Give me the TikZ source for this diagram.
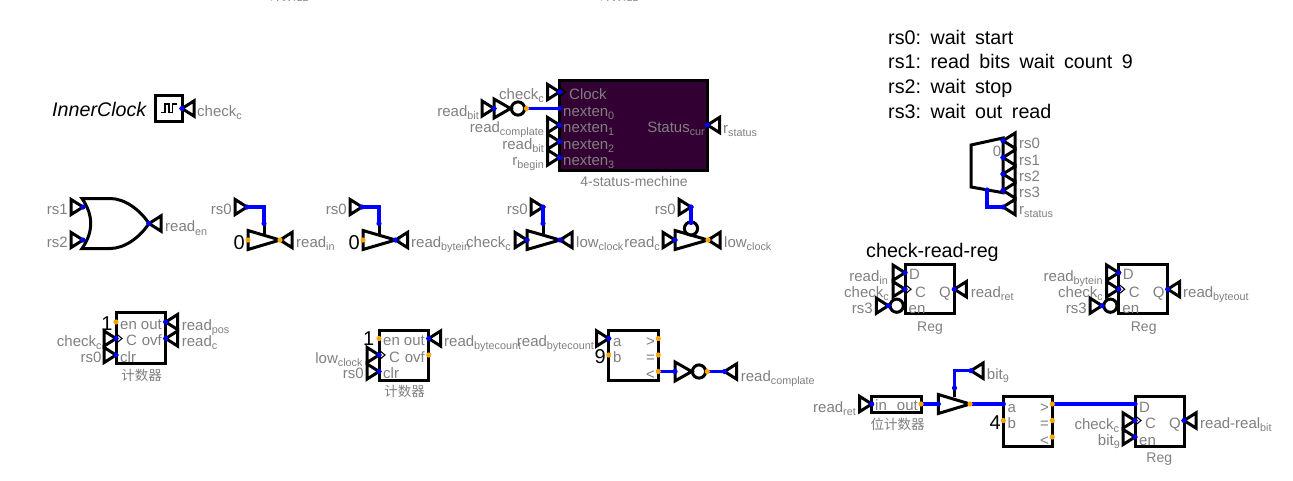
\documentclass[tikz,border=0pt]{standalone}
\usepackage{fontspec}
\setmainfont{Liberation Sans}
\newfontfamily\cjk{Noto Sans CJK SC}
\definecolor{labgray}{HTML}{808080}
\definecolor{pinor}{HTML}{FFA500}
\definecolor{wireb}{HTML}{0000FF}
\definecolor{fsm}{HTML}{330033}
\tikzset{
  gate/.style={draw=black,line width=3pt,line join=miter},
  wire/.style={draw=wireb,line width=3.3pt},
  thinline/.style={draw=black,line width=1.1pt},
  lab/.style={text=labgray,font=\fontsize{15}{15}\selectfont,inner sep=0pt},
  captext/.style={text=labgray,font=\fontsize{14}{14}\selectfont,inner sep=0pt,anchor=base},
  cjkcap/.style={text=labgray,font=\cjk\fontsize{13.5}{14}\selectfont,inner sep=0pt,anchor=center},
  bigtext/.style={text=black,font=\fontsize{19.7}{20}\selectfont,inner sep=0pt,anchor=base west},
  digit/.style={text=black,font=\fontsize{20}{20}\selectfont,inner sep=0pt,anchor=base east},
}
\newcommand{\subt}[1]{\raisebox{-3.6pt}{\fontsize{10.8}{11}\selectfont #1}}
\newcommand{\gp}{\hspace{9.5pt}}
% input pin: tip at x,y pointing right
\newcommand{\ipin}[3]{\coordinate (#1) at (#2,#3);
  \draw[gate,shift={(#2,#3)}] (-12,-7.6) -- (0,0) -- (-12,7.6) -- cycle;}
% output pin: tip at x,y pointing left
\newcommand{\opin}[3]{\coordinate (#1) at (#2,#3);
  \draw[gate,shift={(#2,#3)}] (12,-7.6) -- (0,0) -- (12,7.6) -- cycle;}
\newcommand{\dotblue}[1]{\fill[wireb] (#1) circle[radius=2.6pt];}
\newcommand{\dotor}[1]{\fill[pinor] (#1) circle[radius=2.6pt];}
% labels: name, x, baseline y, text
\newcommand{\lE}[4]{\node[lab,anchor=base east] (#1) at (#2,#3) {#4};}
\newcommand{\lW}[4]{\node[lab,anchor=base west] (#1) at (#2,#3) {#4};}
% clock wedge on a pin
\newcommand{\wedgemark}[1]{\draw[thinline] ([shift={(0,-5)}]#1) -- ([shift={(6,0)}]#1) -- ([shift={(0,5)}]#1);}
% tri-state driver
\newcommand{\driver}[4]{% name, xback, y, xtip
  \draw[gate] (#2,#3-9.5) -- (#4,#3) -- (#2,#3+9.5) -- cycle;
  \coordinate (#1i) at (#2,#3); \coordinate (#1o) at (#4,#3);}
% box with pins, name x0 y0 x1 y1
\newcommand{\ebox}[5]{\node[gate,draw,fill=white,inner sep=0pt,outer sep=0pt,minimum width=#4pt-#2pt,minimum height=#5pt-#3pt,anchor=north west] (#1) at (#2,#3) {};}
\newcommand{\crcle}[3]{\draw[gate] (#2,#3) circle[radius=6.6pt]; \coordinate (#1) at (#2,#3);}
\begin{document}
\begin{tikzpicture}[x=1pt,y=-1pt]
\clip (0,0) rectangle (1293,480);
\fill[white] (0,0) rectangle (1293,480);

% cut-off captions at the top
\node[cjkcap] (topA) at (289,-4.5) {计数器};
\node[cjkcap] (topB) at (619,-4.5) {计数器};

% InnerClock
\node[bigtext,font=\fontsize{19.7}{20}\selectfont\itshape] (ictext) at (52,116.5) {InnerClock};
\ebox{clk}{155.5}{95.5}{182}{121.5}
\draw[thinline] (160.7,112.5) -- (165,112.5) -- (165,104) -- (169,104) -- (169,112.5) -- (172.7,112.5) -- (172.7,104) -- (176.7,104);
\opin{pclk}{182}{108.5}
\dotblue{pclk}
\lW{lclk}{197}{116}{check\subt{c}}

% OR gate
\coordinate (orA) at (83,207); \coordinate (orB) at (83,240); \coordinate (orO) at (149,223.5);
\draw[gate] (82,198.5) -- (110,198.5) .. controls (125,198.5) and (140,210) .. (orO)
  .. controls (140,237) and (125,248.5) .. (110,248.5) -- (82,248.5)
  .. controls (93.6,232) and (93.6,215) .. (82,198.5) -- cycle;
\ipin{pr1}{83}{207} \ipin{pr2}{83}{240} \opin{pen}{149}{223.5}
\dotblue{pr1} \dotblue{pr2} \dotblue{pen}
\lE{lr1}{68}{214}{rs1} \lE{lr2}{68}{247}{rs2}
\lW{len}{165}{231.5}{read\subt{en}}

% driver 1
\driver{da}{248}{240}{280}
\coordinate (dac) at (264,223.5);
\draw[gate] (dac) -- (264,234);
\ipin{pa}{247}{207} \opin{pao}{280}{240}
\draw[wire] (pa) -| (dac);
\dotblue{pa} \dotblue{dac} \dotor{dai} \dotor{pao}
\lE{lpa}{232}{214}{rs0}
\node[digit] (za) at (245,249) {0};
\lW{lao}{296}{247}{read\subt{in}}

% driver 2
\driver{db}{363}{240}{395.5}
\coordinate (dbc) at (379,223.5);
\draw[gate] (dbc) -- (379,234);
\ipin{pb}{362}{207} \opin{pbo}{395.5}{240}
\draw[wire] (pb) -| (dbc);
\dotblue{pb} \dotblue{dbc} \dotor{dbi} \dotblue{pbo}
\lE{lpb}{347}{214}{rs0}
\node[digit] (zb) at (360,249) {0};
\lW{lbo}{411}{247}{read\subt{bytein}}

% driver 3
\driver{dc}{527}{240}{560}
\coordinate (dcc) at (543,223.5);
\draw[gate] (dcc) -- (543,234);
\ipin{pc}{543}{207} \ipin{pci}{527}{240} \opin{pco}{560}{240}
\draw[wire] (pc) -- (dcc);
\dotblue{pc} \dotblue{dcc} \dotblue{pci} \dotblue{pco}
\lE{lpc}{528}{214}{rs0}
\lE{lci}{511}{247}{check\subt{c}}
\lW{lco}{576}{247}{low\subt{clock}}

% driver 4 (inverted enable)
\driver{dd}{675}{240}{708}
\crcle{ddc}{691}{228.5}
\coordinate (ddt) at (691,222.5);
\ipin{pd}{691}{207} \ipin{pdi}{675}{240} \opin{pdo}{708}{240}
\draw[wire] (pd) -- (ddt);
\dotblue{pd} \dotblue{ddt} \dotblue{pdi} \dotor{pdo}
\lE{lpd}{676}{214}{rs0}
\lE{ldi}{660}{247}{read\subt{c}}
\lW{ldo}{724}{247}{low\subt{clock}}

% state machine
\node[gate,draw,fill=fsm,inner sep=0pt,outer sep=0pt,minimum width=148pt,minimum height=90.5pt,anchor=north west] (fsmbox) at (559.5,80) {};
\coordinate (nc) at (559.5,92); \coordinate (n0) at (559.5,108.5);
\wedgemark{nc}
\ipin{nck}{559.5}{92} \ipin{n1}{559.5}{125} \ipin{n2}{559.5}{141.5} \ipin{n3}{559.5}{157.5}
\opin{nout}{707.5}{125}
\ipin{pnb}{494}{108.5}
\draw[gate] (494,99) -- (510.5,108.5) -- (494,118) -- cycle;
\crcle{nbc}{518}{108.5}
\coordinate (nbo) at (526.5,108.5);
\draw[wire] (nbo) -- (n0);
\dotblue{pnb} \dotor{nbo} \dotblue{n0} \dotblue{nck} \dotblue{n1} \dotblue{n2} \dotblue{n3} \dotblue{nout}
\lE{lnb}{479}{116}{read\subt{bit}}
\lE{lnck}{544}{99}{check\subt{c}}
\lE{ln1}{544}{132}{read\subt{complate}}
\lE{ln2}{544}{149}{read\subt{bit}}
\lE{ln3}{544}{165}{r\subt{begin}}
\lW{tck}{569}{99}{Clock}
\lW{t0}{563}{116}{nexten\subt{0}}
\lW{t1}{563}{132}{nexten\subt{1}}
\lW{t2}{563}{149}{nexten\subt{2}}
\lW{t3}{563}{165}{nexten\subt{3}}
\lE{tcur}{705}{132}{Status\subt{cur}}
\lW{lst}{723}{133}{r\subt{status}}
\node[captext] (cfsm) at (634,186) {4-status-mechine};

% notes
\node[bigtext] (n1t) at (888,44) {rs0:\gp wait\gp start};
\node[bigtext] (n2t) at (888,68.7) {rs1:\gp read\gp bits\gp wait\gp count\gp 9};
\node[bigtext] (n3t) at (888,93.3) {rs2:\gp wait\gp stop};
\node[bigtext] (n4t) at (888,118) {rs3:\gp wait\gp out\gp read};

% multiplexer
\draw[gate] (971,145) -- (1003,138) -- (1003,192.7) -- (971,187) -- cycle;
\coordinate (msel) at (987,190);
\opin{m0}{1003}{140.7} \opin{m1}{1003}{157.5} \opin{m2}{1003}{174} \opin{m3}{1003}{190.5} \opin{ms}{1003}{207}
\draw[wire] (msel) |- (ms);
\dotblue{m0} \dotblue{m1} \dotblue{m2} \dotblue{m3} \dotblue{ms} \dotblue{msel}
\node[lab,anchor=base] (mz) at (997,156) {0};
\lW{lm0}{1019}{148}{rs0} \lW{lm1}{1019}{165}{rs1} \lW{lm2}{1019}{181}{rs2} \lW{lm3}{1019}{197}{rs3}
\lW{lms}{1019}{214}{r\subt{status}}

% reg 1
\node[bigtext] (crr) at (866,257.7) {check-read-reg};
\ebox{ra}{905}{264.3}{954.3}{313.3}
\coordinate (raC) at (905,289.2);
\wedgemark{raC}
\ipin{raD}{905}{272.7} \ipin{racp}{905}{289.2} \opin{raQ}{954.3}{289.2}
\crcle{rae}{896.7}{305.7}
\ipin{raen}{888.3}{305.7}
\dotblue{raD} \dotblue{racp} \dotblue{raQ} \dotblue{raen}
\lE{lraD}{888}{281}{read\subt{in}}
\lE{lraC}{889}{297}{check\subt{c}}
\lE{lrae}{873}{313}{rs3}
\lW{traD}{909}{279}{D} \lW{traC}{915}{297}{C} \lW{trae}{908.5}{313}{en}
\lE{traQ}{951}{297}{Q}
\lW{lraQ}{970.7}{297}{read\subt{ret}}
\node[captext] (cra) at (930,331) {Reg};

% reg 2
\ebox{rb}{1118.7}{264.3}{1167.7}{313.3}
\coordinate (rbC) at (1118.7,289.2);
\wedgemark{rbC}
\ipin{rbD}{1118.7}{272.7} \ipin{rbcp}{1118.7}{289.2} \opin{rbQ}{1167.7}{289.2}
\crcle{rbe}{1110.4}{305.7}
\ipin{rben}{1102}{305.7}
\dotblue{rbD} \dotblue{rbcp} \dotblue{rbQ} \dotblue{rben}
\lE{lrbD}{1102.7}{281}{read\subt{bytein}}
\lE{lrbC}{1103}{297}{check\subt{c}}
\lE{lrbe}{1087}{313}{rs3}
\lW{trbD}{1122.7}{279}{D} \lW{trbC}{1128.7}{297}{C} \lW{trbe}{1122.2}{313}{en}
\lE{trbQ}{1164.7}{297}{Q}
\lW{lrbQ}{1183}{297}{read\subt{byteout}}
\node[captext] (crb) at (1143.7,331) {Reg};

% counter 1
\ebox{ca}{116}{312.7}{165.7}{363.3}
\coordinate (caE) at (116,322); \coordinate (caC) at (116,338.5);
\wedgemark{caC}
\ipin{cacp}{116}{338.5} \ipin{caclr}{116}{355}
\opin{caout}{165.7}{322} \opin{caovf}{165.7}{338.5}
\dotor{caE} \dotblue{cacp} \dotblue{caclr} \dotblue{caout} \dotblue{caovf}
\node[digit] (onea) at (112.7,330.7) {1};
\lE{lcac}{101.7}{346}{check\subt{c}}
\lE{lcar}{101.7}{362}{rs0}
\lW{tcae}{120}{329}{en} \lE{tcao}{162}{329}{out}
\lW{tcac}{126}{345}{C} \lE{tcav}{162}{345}{ovf}
\lW{tcar}{120}{362}{clr}
\lW{lcap}{181.7}{330}{read\subt{pos}}
\lW{lcaq}{181.7}{346}{read\subt{c}}
\node[cjkcap] (cca) at (141.7,375) {计数器};

% counter 2
\ebox{cb}{379}{330}{428.7}{380}
\coordinate (cbE) at (379,338.5); \coordinate (cbC) at (379,355); \coordinate (cbv) at (428.7,355);
\wedgemark{cbC}
\ipin{cbcp}{379}{355} \ipin{cbclr}{379}{371.5}
\opin{cbout}{428.7}{338.5}
\dotor{cbE} \dotblue{cbcp} \dotblue{cbclr} \dotblue{cbout} \dotor{cbv}
\node[digit] (oneb) at (374.5,345) {1};
\lE{lcbc}{362.7}{363}{low\subt{clock}}
\lE{lcbr}{364}{378}{rs0}
\lW{tcbe}{383}{345}{en} \lE{tcbo}{425}{345}{out}
\lW{tcbc}{389}{362}{C} \lE{tcbv}{425}{362}{ovf}
\lW{tcbr}{383}{378}{clr}
\lW{lcbo}{444}{346}{read\subt{bytecount}}
\node[cjkcap] (ccb) at (404.7,391) {计数器};

% comparator 1
\ebox{cma}{608.7}{330}{658.3}{380}
\coordinate (cmab) at (608.7,355); \coordinate (cmag) at (658.3,338.5);
\coordinate (cmae) at (658.3,355); \coordinate (cmal) at (658.3,371.5);
\ipin{cmaa}{608.7}{338.5}
\dotblue{cmaa} \dotor{cmab} \dotor{cmag} \dotor{cmae}
\draw[gate] (675,362) -- (691.7,371.5) -- (675,381) -- cycle;
\coordinate (nai) at (675,371.5);
\crcle{nac}{699}{371.5}
\coordinate (nao) at (707.3,371.5);
\opin{nap}{724.5}{371.5}
\draw[wire] (cmal) -- (nai);
\draw[wire] (nao) -- (nap);
\dotor{cmal} \dotblue{nai} \dotor{nao} \dotblue{nap}
\node[digit] (nine) at (606,363) {9};
\lE{lcma}{594}{346}{read\subt{bytecount}}
\lW{tcma}{613}{346}{a} \lW{tcmb}{613}{362}{b}
\lE{tcmg}{655}{346}{>} \lE{tcme}{655}{362}{=} \lE{tcml}{655}{379}{<}
\lW{lnap}{740.7}{381}{read\subt{complate}}

% bottom row
\ipin{rret}{871.7}{404}
\node[gate,draw,fill=white,inner sep=0pt,outer sep=0pt,minimum width=49.3pt,minimum height=16.3pt,anchor=north west] (bitc) at (871.7,396) {};
\coordinate (bitco) at (921,404);
\coordinate (bdi) at (938.3,404); \coordinate (bdo) at (970,404); \coordinate (bdc) at (954.5,388);
\draw[gate] (bdc) -- (954.5,397);
\draw[gate] (938.3,394.5) -- (970,404) -- (938.3,413.5) -- cycle;
\opin{b9}{971}{370.7}
\draw[wire] (bitco) -- (bdi);
\draw[wire] (bdc) |- (b9);
\ebox{cmb}{1003.3}{396}{1052.3}{446}
\coordinate (cmba) at (1003.3,404); \coordinate (cmbb) at (1003.3,420.5);
\coordinate (cmbg) at (1052.3,404); \coordinate (cmbe) at (1052.3,420.5); \coordinate (cmbl) at (1052.3,437);
\ebox{rc}{1135}{396}{1184}{446}
\coordinate (rcD) at (1135,404); \coordinate (rcC) at (1135,420.5);
\wedgemark{rcC}
\ipin{rccp}{1135}{420.5} \ipin{rcen}{1135}{437} \opin{rcQ}{1184}{420.5}
\draw[wire] (bdo) -- (cmba);
\draw[wire] (cmbg) -- (rcD);
\dotblue{rret} \dotor{bitco} \dotblue{bdi} \dotor{bdo} \dotblue{bdc} \dotblue{b9}
\dotblue{cmba} \dotor{cmbb} \dotor{cmbg} \dotor{cmbe} \dotor{cmbl}
\dotblue{rcD} \dotblue{rccp} \dotblue{rcen} \dotblue{rcQ}
\lE{lrret}{856}{412}{read\subt{ret}}
\lW{tin}{875}{410}{in} \lE{tout}{918}{410}{out}
\node[cjkcap] (cbit) at (897.7,424) {位计数器};
\lW{lb9}{986.7}{379}{bit\subt{9}}
\node[digit] (four) at (1001,429.3) {4};
\lW{tcmba}{1007.5}{412}{a} \lW{tcmbb}{1007.5}{428}{b}
\lE{tcmbg}{1049}{412}{>} \lE{tcmbe}{1049}{428}{=} \lE{tcmbl}{1049}{445}{<}
\lW{trcD}{1139}{412}{D} \lW{trcC}{1145}{428}{C} \lW{trce}{1139}{445}{en}
\lE{trcQ}{1181}{428}{Q}
\lE{lrcc}{1119.3}{429}{check\subt{c}}
\lE{lrce}{1120}{445}{bit\subt{9}}
\lW{lrcq}{1200}{428}{read-real\subt{bit}}
\node[captext] (crc) at (1159.3,462) {Reg};
\end{tikzpicture}
\end{document}
